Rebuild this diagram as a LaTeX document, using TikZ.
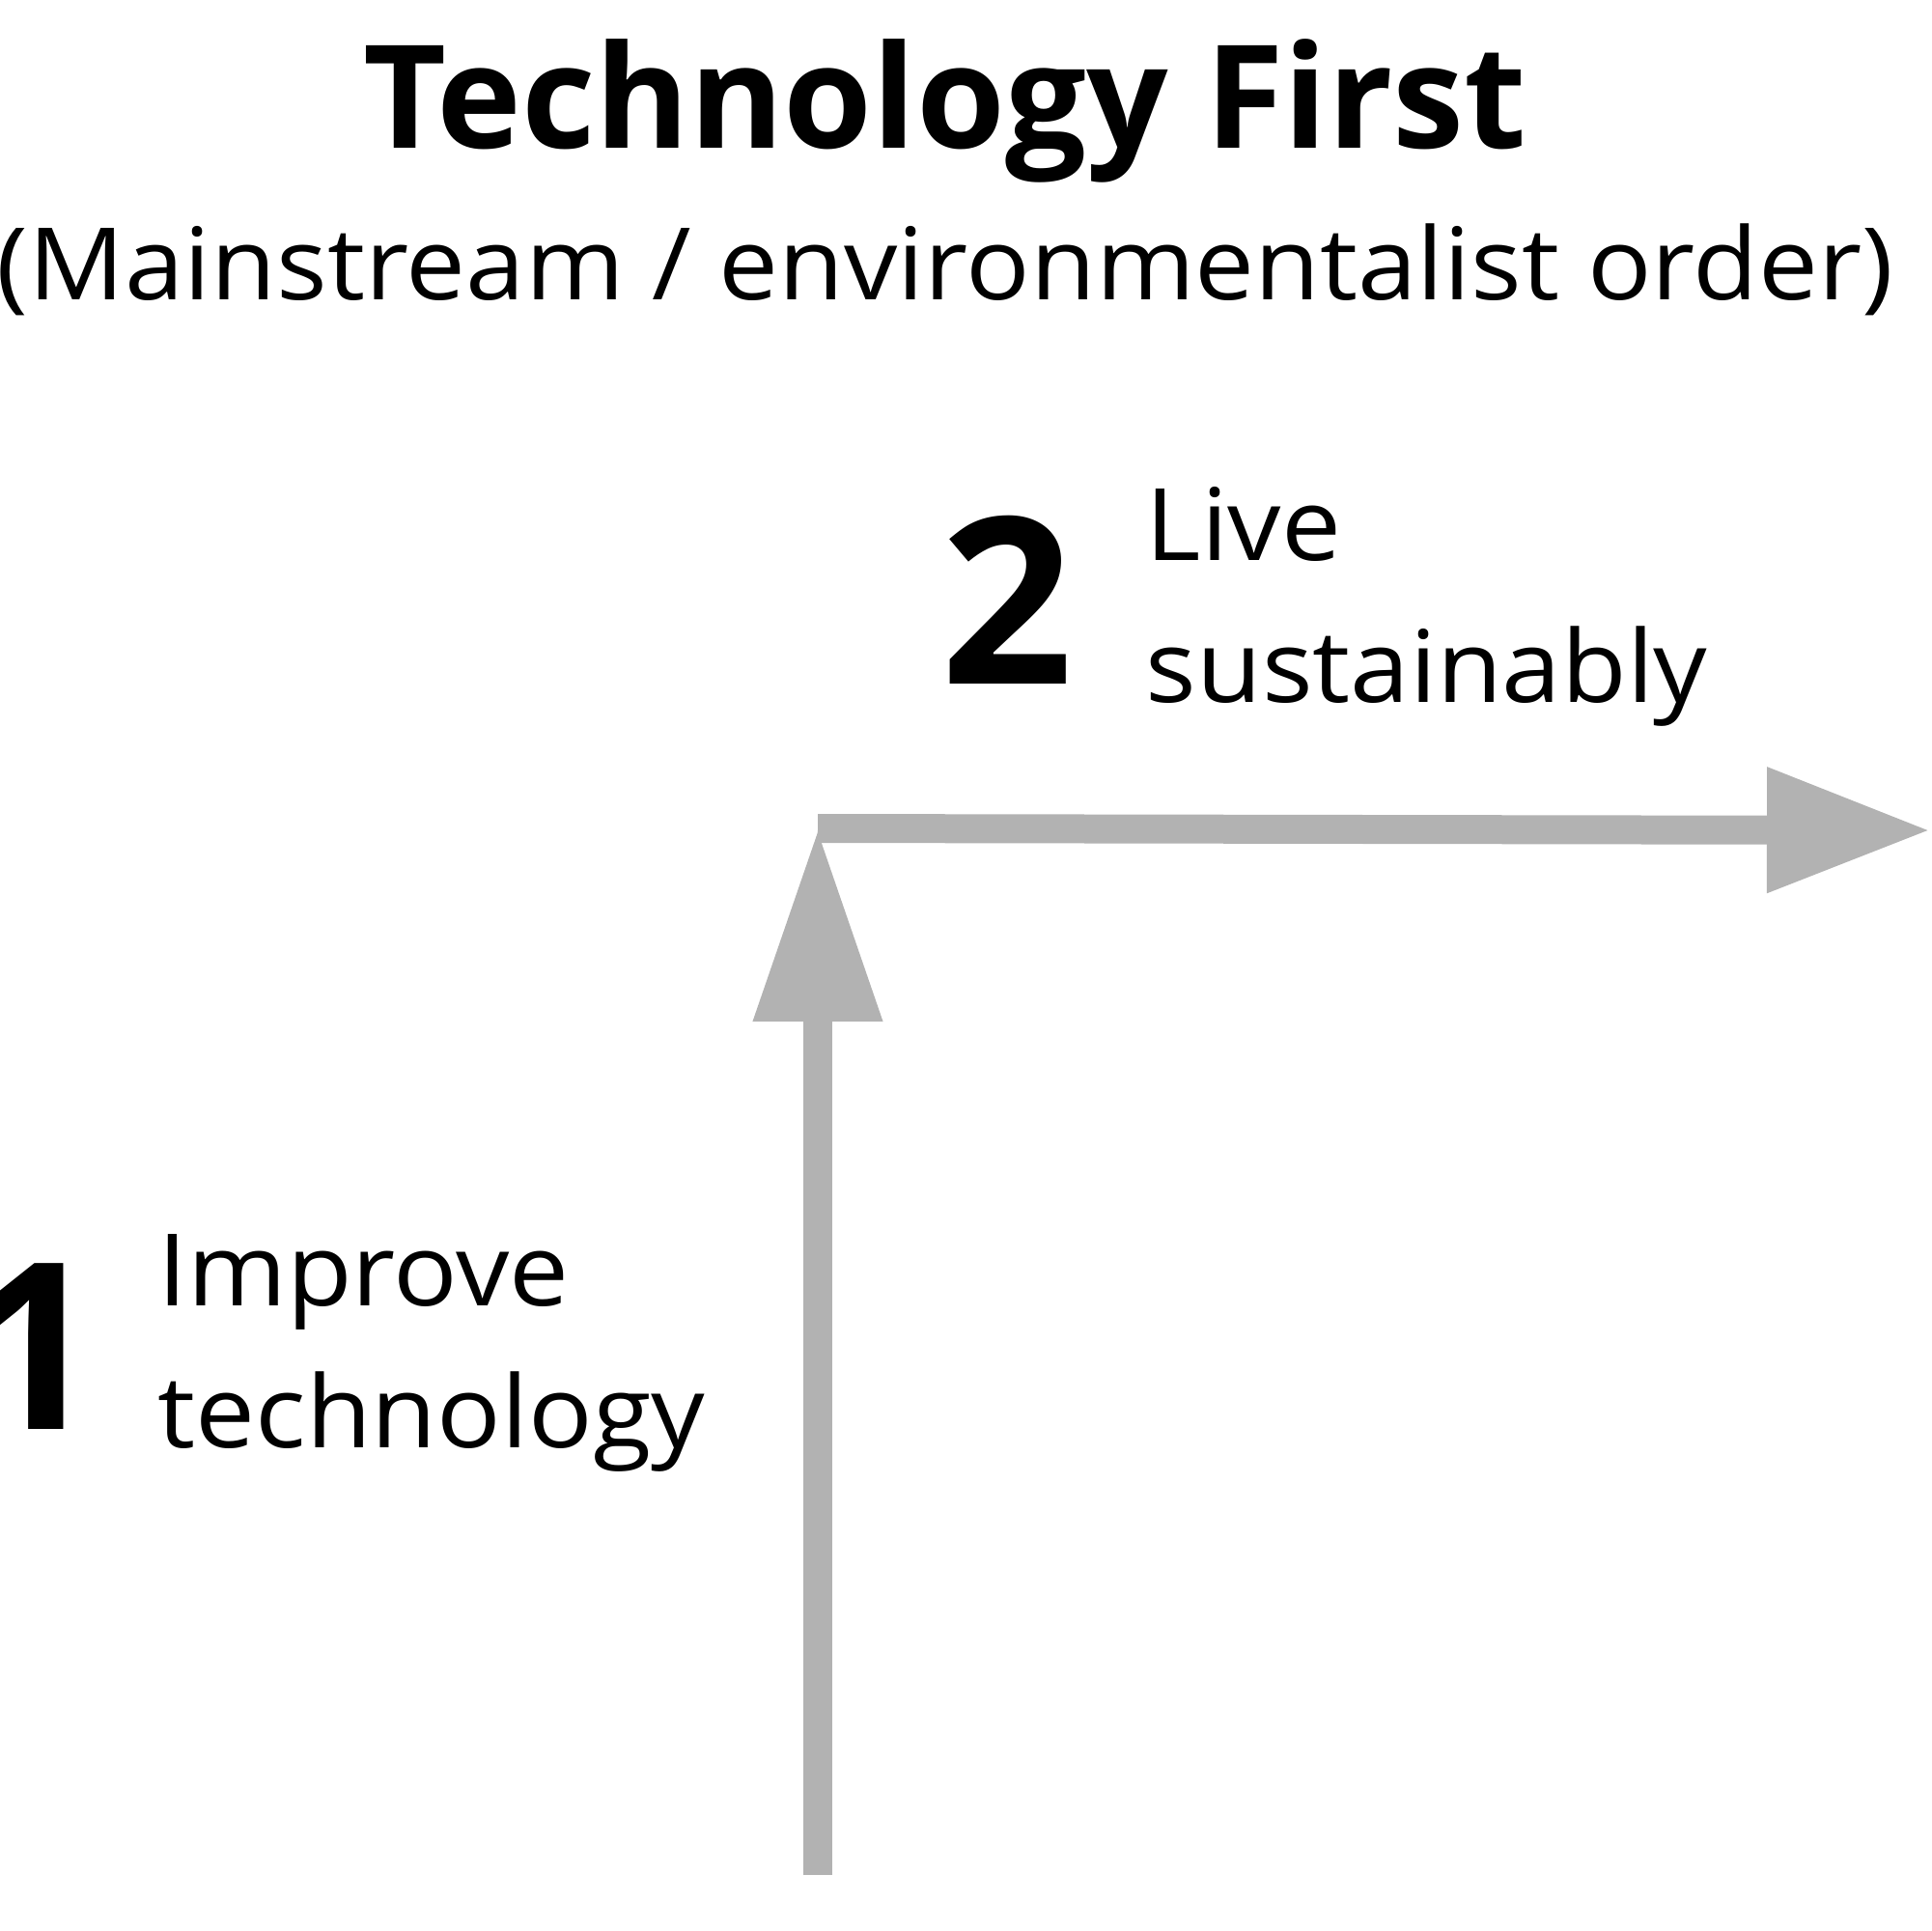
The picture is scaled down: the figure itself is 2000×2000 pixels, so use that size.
\documentclass[tikz,border=0pt]{standalone}
\usepackage{fontspec}
\setmainfont{Open Sans}
\newfontfamily\widesans[FakeStretch=1.065]{Open Sans}
\usepackage{tikz}
\usetikzlibrary{arrows.meta}

\definecolor{arrowgray}{RGB}{178,178,178}

\tikzset{
  flow/.style={draw=arrowgray, line width=3mm, line cap=butt},
  steplabel/.style={anchor=base west, inner sep=0pt, align=left, font=\widesans\fontsize{29.5}{41.8}\selectfont},
  stepnum/.style={inner sep=0pt, font=\fontsize{68.5}{70}\selectfont\bfseries}
}

\begin{document}
\begin{tikzpicture}[x=0.1mm,y=0.1mm,yscale=-1,xscale=1]
	\useasboundingbox (0,0) rectangle (2000,2000);
	
	% Text Node
	\node (title) [anchor=base, inner sep=0pt, font=\fontsize{42.3}{50}\selectfont\bfseries] at (979,153) {Technology First};
	% Text Node
	\node (subtitle) [anchor=base, inner sep=0pt, font=\widesans\fontsize{29.5}{36}\selectfont] at (979,310) {(Mainstream / environmentalist order)};
	
	% Arrow points
	\coordinate (start) at (847,1942);
	\coordinate (corner) at (847,858);
	\coordinate (goal) at (2000,860);
	
	%Arrow up
	\draw [flow, -{Triangle[length=20mm,width=12.6mm]}] (start) -- (corner);
	%Arrow right
	\draw [flow, -{Triangle[length=17mm,width=12.2mm]}] (corner) -- (goal);
	
	% Text Node
	\node (num1) [stepnum, anchor=base east] at (105,1480) {1};
	% Text Node
	\node (step1) [steplabel] at (163,1499) {Improve\\technology};
	% Text Node
	\node (num2) [stepnum, anchor=base west] at (974,708) {2};
	% Text Node
	\node (step2) [steplabel] at (1186,727) {Live\\sustainably};
	
\end{tikzpicture}
\end{document}
